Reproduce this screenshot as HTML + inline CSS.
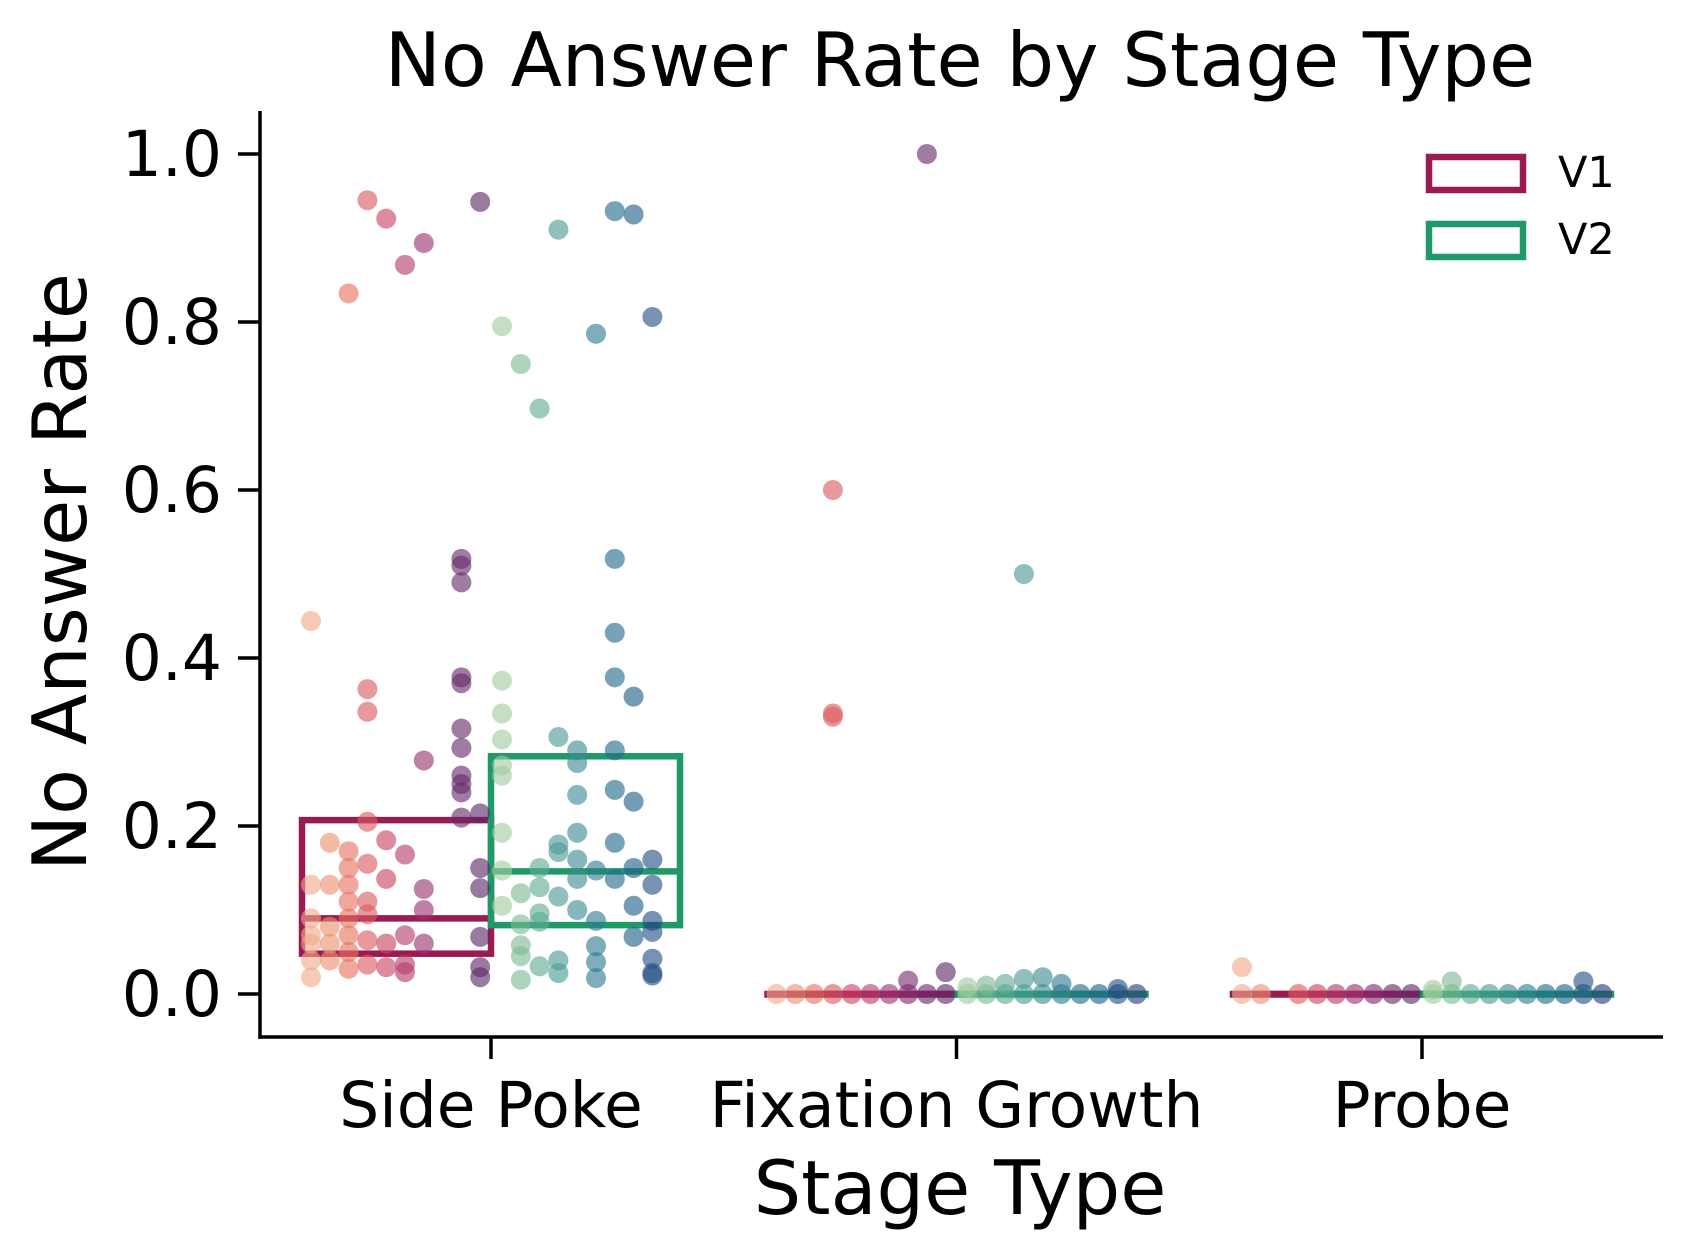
<!DOCTYPE html>
<html><head><meta charset="utf-8">
<style>
html,body{margin:0;padding:0;background:#fff;}
svg{display:block;font-family:"DejaVu Sans","Liberation Sans",sans-serif;}
</style></head>
<body>
<svg id="chart" width="1683" height="1255" viewBox="0 0 1683 1255" xmlns="http://www.w3.org/2000/svg">
<text x="960" y="86" font-size="75" text-anchor="middle">No Answer Rate by Stage Type</text>
<text transform="translate(86,572) rotate(-90)" font-size="75" text-anchor="middle">No Answer Rate</text>
<text x="960" y="1214" font-size="75" text-anchor="middle">Stage Type</text>
<g id="axes"></g>
<g id="boxes"></g>
<g id="points"></g>
<g>
<rect x="1429" y="157" width="94" height="33" fill="none" stroke="#991b52" stroke-width="6.5"/>
<text x="1558" y="187" font-size="43">V1</text>
<rect x="1429" y="224" width="94" height="33" fill="none" stroke="#1f9968" stroke-width="6.5"/>
<text x="1558" y="254" font-size="43">V2</text>
</g>
</svg>
<script>
const categories = ["Side Poke", "Fixation Growth", "Probe"];
const yTicks = [0, 0.2, 0.4, 0.6, 0.8, 1.0];
const yTickLabels = ["0.0", "0.2", "0.4", "0.6", "0.8", "1.0"];
// box stats [q1, median, q3] per category
const v1Boxes = [[0.048, 0.090, 0.207], [0, 0, 0], [0, 0, 0]];
const v2Boxes = [[0.082, 0.146, 0.283], [0, 0, 0], [0, 0, 0]];
// points: [subjectIndex, value]
const v1SidePoke = [[0,0.444],[0,0.13],[0,0.09],[0,0.07],[0,0.06],[0,0.04],[0,0.02],
[1,0.18],[1,0.13],[1,0.08],[1,0.06],[1,0.04],
[2,0.834],[2,0.17],[2,0.15],[2,0.13],[2,0.11],[2,0.09],[2,0.07],[2,0.05],[2,0.03],
[3,0.945],[3,0.363],[3,0.336],[3,0.205],[3,0.155],[3,0.11],[3,0.095],[3,0.064],[3,0.035],
[4,0.923],[4,0.183],[4,0.137],[4,0.06],[4,0.032],
[5,0.868],[5,0.166],[5,0.07],[5,0.035],[5,0.026],
[6,0.894],[6,0.278],[6,0.125],[6,0.10],[6,0.06],
[8,0.518],[8,0.51],[8,0.49],[8,0.377],[8,0.37],[8,0.316],[8,0.293],[8,0.26],[8,0.25],[8,0.24],[8,0.21],
[9,0.943],[9,0.215],[9,0.15],[9,0.126],[9,0.068],[9,0.032],[9,0.02]];
const v2SidePoke = [[0,0.795],[0,0.373],[0,0.334],[0,0.303],[0,0.272],[0,0.26],[0,0.192],[0,0.147],[0,0.105],
[1,0.75],[1,0.12],[1,0.083],[1,0.058],[1,0.045],[1,0.017],
[2,0.697],[2,0.15],[2,0.127],[2,0.096],[2,0.086],[2,0.033],
[3,0.91],[3,0.306],[3,0.178],[3,0.169],[3,0.116],[3,0.04],[3,0.025],
[4,0.29],[4,0.275],[4,0.237],[4,0.192],[4,0.16],[4,0.137],[4,0.10],
[5,0.786],[5,0.147],[5,0.087],[5,0.057],[5,0.038],[5,0.019],
[6,0.932],[6,0.518],[6,0.43],[6,0.377],[6,0.29],[6,0.243],[6,0.18],[6,0.137],
[7,0.928],[7,0.354],[7,0.229],[7,0.15],[7,0.105],[7,0.068],
[8,0.806],[8,0.16],[8,0.13],[8,0.087],[8,0.074],[8,0.042],[8,0.025],[8,0.022]];
const v1Fixation = [[0,0],[1,0],[2,0],[3,0.6],[3,0.334],[3,0.33],[3,0],[4,0],[5,0],[6,0],[7,0],[7,0.016],[8,1.0],[8,0],[9,0.026],[9,0]];
const v2Fixation = [[0,0],[0,0.008],[1,0],[1,0.01],[2,0],[2,0.012],[3,0.5],[3,0],[3,0.018],[4,0],[4,0.02],[5,0],[5,0.012],[6,0],[7,0],[8,0],[8,0.006],[9,0]];
const v1Probe = [[0,0.032],[0,0],[1,0],[3,0],[4,0],[5,0],[6,0],[7,0],[8,0],[9,0]];
const v2Probe = [[0,0],[0,0.005],[1,0],[1,0.015],[2,0],[3,0],[4,0],[5,0],[6,0],[7,0],[8,0],[8,0.015],[9,0]];

const NS = "http://www.w3.org/2000/svg";
const X0 = 260, XR = 1663, YB = 1037, YT = 111;
const catX = i => 491 + i * 465.5;
const yS = v => 994 - v * 840;
const v1Colors = ["#f0a98a","#ec8f70","#e6725f","#dc5a5e","#cb4464","#b43b6c","#9a3371","#7e2c71","#652a6b","#5a2866"];
const v2Colors = ["#9fcc9e","#7dba96","#5fa995","#4c9994","#3b8a93","#2f7b91","#246b8e","#21608b","#234f83","#283e79"];
function el(tag, attrs, parent){const e=document.createElementNS(NS,tag);for(const k in attrs)e.setAttribute(k,attrs[k]);parent.appendChild(e);return e;}
const axes=document.getElementById('axes');
let a=el('line',{x1:X0,y1:YT,x2:X0,y2:YB+1.75,stroke:'#000','stroke-width':3.5},axes);


a=el('line',{x1:X0-1.75,y1:YB,x2:XR,y2:YB,stroke:'#000','stroke-width':3.5},axes);


yTicks.forEach((t,i)=>{
 const y=yS(t);
 const l=el('line',{x1:X0-22,y1:y,x2:X0,y2:y,stroke:'#000','stroke-width':3.5},axes);
 
 
 const tx=el('text',{x:X0-38,y:y+22,'font-size':63,'text-anchor':'end'},axes);
 tx.textContent=yTickLabels[i];
 
 
});
categories.forEach((c,i)=>{
 const x=catX(i);
 const l=el('line',{x1:x,y1:YB,x2:x,y2:YB+22,stroke:'#000','stroke-width':3.5},axes);
 
 
 const tx=el('text',{x:x,y:1127,'font-size':63,'text-anchor':'middle'},axes);
 tx.textContent=c;
 
 
});
const boxes=document.getElementById('boxes');
function drawBox(stats,i,side,color,name){
 const cx=catX(i), w=189;
 const x1 = side<0 ? cx-w : cx, x2 = side<0 ? cx : cx+w;
 const r=el('rect',{x:x1,y:yS(stats[2]),width:x2-x1,height:Math.max(0.5,yS(stats[0])-yS(stats[2])),fill:'none',stroke:color,'stroke-width':6.5},boxes);
 
 
 const m=el('line',{x1:x1,y1:yS(stats[1]),x2:x2,y2:yS(stats[1]),stroke:color,'stroke-width':6.5},boxes);
 
 
}
v1Boxes.forEach((b,i)=>drawBox(b,i,-1,'#991b52','v1-'+i));
v2Boxes.forEach((b,i)=>drawBox(b,i,1,'#1f9968','v2-'+i));
const pts=document.getElementById('points');
function drawPts(arr,cat,side,colors,name){
 arr.forEach(p=>{
  const s=p[0];
  const x = side<0 ? catX(cat)-180+s*18.8 : catX(cat)+11+s*18.8;
  const c=el('circle',{cx:x,cy:yS(p[1]),r:10,fill:colors[s],'fill-opacity':0.62},pts);
  
  
 });
}
drawPts(v1SidePoke,0,-1,v1Colors,'v1-side-poke');
drawPts(v2SidePoke,0,1,v2Colors,'v2-side-poke');
drawPts(v1Fixation,1,-1,v1Colors,'v1-fixation');
drawPts(v2Fixation,1,1,v2Colors,'v2-fixation');
drawPts(v1Probe,2,-1,v1Colors,'v1-probe');
drawPts(v2Probe,2,1,v2Colors,'v2-probe');
</script>
</body></html>
